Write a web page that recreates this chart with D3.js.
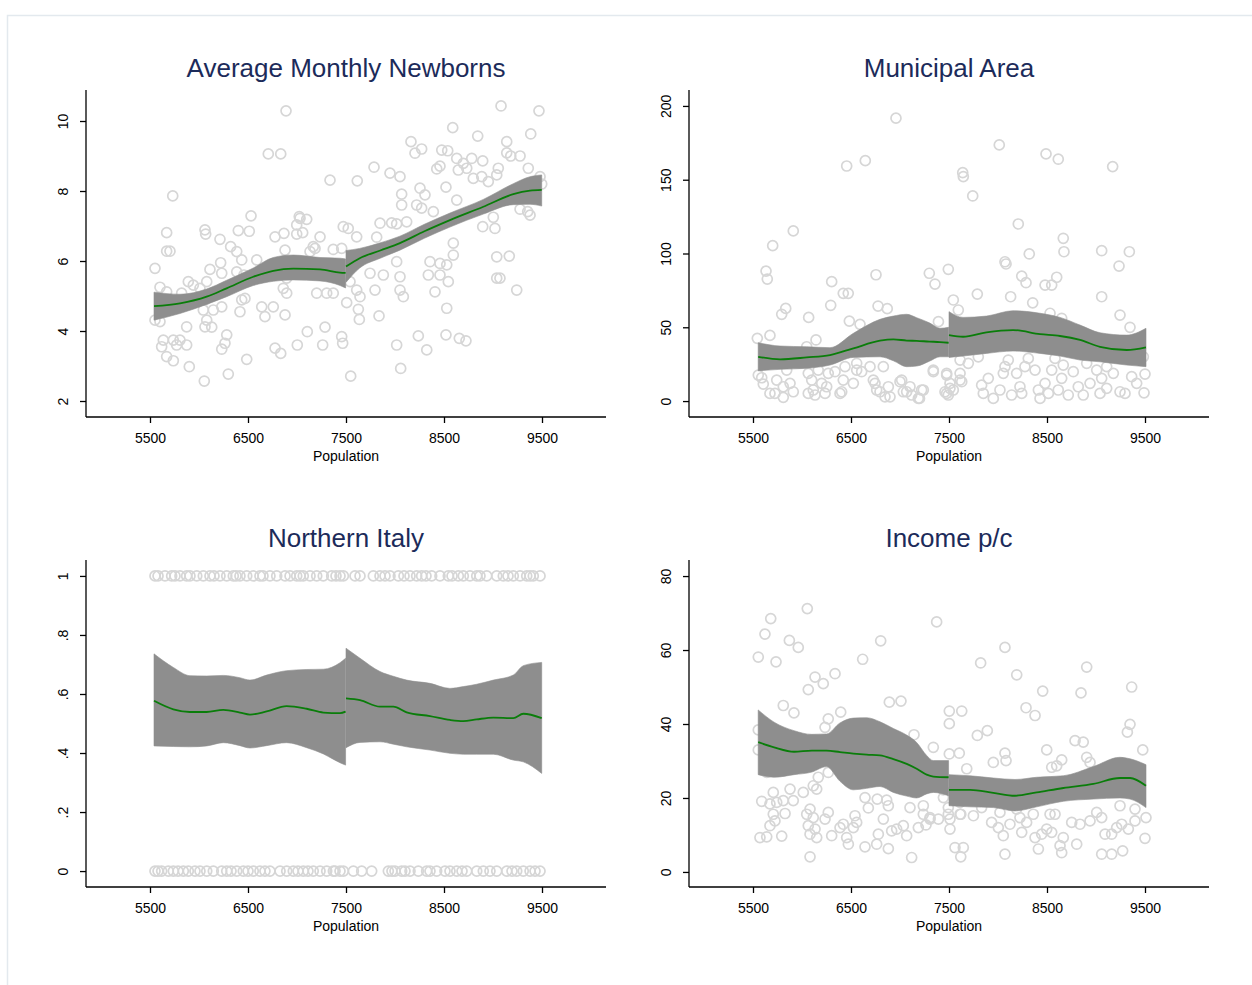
<!DOCTYPE html>
<html>
<head>
<meta charset="utf-8">
<script src="https://cdn.jsdelivr.net/npm/d3@7"></script>
<style>
  html, body { margin: 0; padding: 0; background: #ffffff; }
  svg { display: block; }
  text { font-family: "Liberation Sans", Arial, Helvetica, sans-serif; }
</style>
</head>
<body>
<div id="chart"></div>
<script>
// ---- Shared axis settings ----
const popTicks = [5500, 6500, 7500, 8500, 9500];
const popLabel = "Population";

// ---- Panel 1: Average Monthly Newborns ----
const newbornsTicks = [2, 4, 6, 8, 10];
const newbornsPoints = [
  [6888,10.29],[6707,9.06],[6834,9.06],[7337,8.31],[5732,7.86],[6531,7.29],[7023,7.27],[7099,7.19],
  [6997,7.03],[5670,6.81],[6061,6.89],[6068,6.77],[6401,6.87],[6513,6.85],[6867,6.79],[6997,6.77],
  [7058,6.81],[6776,6.69],[7235,6.69],[6214,6.62],[6323,6.41],[6385,6.27],[6436,6.03],[6589,6.03],
  [7166,6.41],[7370,6.33],[5670,6.28],[5704,6.28],[6878,6.31],[7133,6.27],[5551,5.79],[6112,5.76],
  [6221,5.95],[6232,5.65],[6385,5.69],[6459,5.60],[6724,5.84],[5602,5.25],[5891,5.41],[5942,5.31],
  [6010,5.22],[6079,5.41],[5670,5.12],[5823,5.08],[6283,5.19],[6436,4.89],[6469,4.93],[6061,4.89],
  [6146,4.60],[6232,4.69],[6418,4.55],[6640,4.69],[6758,4.69],[6673,4.41],[6878,4.46],[6044,4.60],
  [6079,4.31],[5551,4.31],[5602,4.27],[6895,5.08],[6895,5.51],[6860,5.22],[7201,5.08],[7303,5.08],
  [7370,5.08],[5874,4.12],[6061,4.12],[6130,4.11],[6283,3.89],[5636,3.74],[5738,3.74],[5806,3.74],
  [5874,3.60],[5772,3.60],[5619,3.55],[5670,3.27],[5738,3.15],[6232,3.48],[6265,3.65],[6487,3.19],
  [6776,3.51],[6834,3.36],[7003,3.60],[7105,3.98],[7262,3.60],[7286,4.11],[5901,2.98],[6299,2.77],
  [6054,2.57],[9082,10.43],[9469,10.29],[8589,9.81],[8844,9.57],[9385,9.63],[9140,9.41],[8163,9.41],
  [8204,9.08],[8272,9.20],[8477,9.17],[8538,9.15],[9140,9.09],[9181,9.00],[9276,9.00],[8630,8.93],
  [8697,8.79],[8783,8.93],[8895,8.86],[8646,8.60],[8732,8.65],[8426,8.63],[8459,8.71],[7786,8.68],
  [7949,8.51],[8051,8.41],[7615,8.29],[8799,8.36],[8885,8.41],[9054,8.65],[9038,8.46],[8952,8.27],
  [9360,8.65],[9480,8.41],[9497,8.20],[8520,8.11],[8255,8.08],[8306,7.89],[8068,7.91],[8068,7.60],
  [8221,7.60],[8272,7.51],[8391,7.41],[8630,7.74],[9003,7.25],[8895,6.98],[9020,6.93],[9276,7.48],
  [9378,7.31],[9354,7.41],[7847,7.08],[7966,7.09],[8017,7.06],[8119,7.12],[7472,6.98],[7523,6.93],
  [7031,7.22],[7184,6.36],[7456,6.36],[7609,6.69],[7813,6.68],[7745,5.65],[7881,5.60],[8051,5.55],
  [8051,5.17],[8085,4.98],[8357,5.98],[8459,5.93],[8528,5.89],[8595,6.17],[8595,6.51],[8340,5.60],
  [8459,5.60],[8544,5.41],[8408,5.12],[8017,5.98],[9038,6.12],[9166,6.14],[9038,5.51],[9071,5.51],
  [9242,5.17],[7541,5.41],[7609,5.17],[7643,4.98],[7796,5.17],[7507,4.81],[7626,4.62],[7636,4.33],
  [7837,4.43],[7456,3.84],[7466,3.65],[7548,2.71],[8017,3.60],[8058,2.93],[8238,3.86],[8324,3.46],
  [8528,4.65],[8520,3.89],[8656,3.79],[8724,3.72]
];
// [population, fit, lower, upper]
const newbornsFitLeft = [
  [5541,4.71,4.31,5.11],[5806,4.79,4.50,5.05],[6078,4.98,4.76,5.20],[6282,5.22,4.98,5.45],
  [6554,5.55,5.30,5.80],[6758,5.72,5.42,6.10],[6962,5.78,5.46,6.17],[7235,5.76,5.43,6.10],
  [7439,5.67,5.30,6.08],[7496,5.66,5.23,6.06]
];
const newbornsFitRight = [
  [7500,5.84,5.39,6.30],[7640,6.08,5.80,6.36],[7850,6.30,6.08,6.52],[8050,6.51,6.31,6.71],
  [8300,6.85,6.65,7.05],[8561,7.17,6.97,7.37],[8901,7.55,7.34,7.76],[9207,7.91,7.61,8.21],
  [9378,8.01,7.62,8.41],[9497,8.03,7.57,8.46]
];

// ---- Panel 2: Municipal Area ----
const areaTicks = [0, 50, 100, 150, 200];
const areaPoints = [
  [6959,191.7],[6456,159.3],[6646,162.9],[5911,115.3],[5701,105.3],[5633,88.1],[5646,82.7],[6755,85.6],
  [6303,80.9],[6421,73.0],[6472,73.0],[6293,64.9],[6776,64.4],[6870,62.6],[5834,62.8],[5793,58.8],
  [6068,56.7],[6483,54.2],[6592,52.0],[5673,44.5],[5544,42.5],[6143,41.4],[6048,36.8],[7299,86.6],
  [7357,79.3],[5554,17.6],[5589,15.8],[5605,11.5],[5673,5.2],[5724,5.2],[5742,14.2],[5809,9.7],
  [5809,2.5],[5878,12.0],[5911,6.3],[5844,21.0],[6064,18.8],[6064,5.2],[6099,14.2],[6115,7.5],
  [6133,4.1],[6201,12.0],[6235,5.2],[6252,9.7],[6166,21.0],[6268,18.8],[6337,19.9],[6388,5.2],
  [6421,14.2],[6439,23.3],[6524,12.0],[6558,21.0],[6609,19.9],[6694,23.3],[6728,14.2],[6762,7.5],
  [6796,6.3],[6847,2.9],[6898,2.9],[6881,9.7],[7000,13.1],[7034,6.3],[7102,9.7],[7119,4.1],
  [7199,1.8],[7238,7.5],[7340,21.0],[6830,23.3],[7493,89.3],[7392,53.8],[6558,25.6],[7476,17.6],
  [7613,14.2],[7510,12.0],[7459,6.3],[7493,4.1],[7544,7.5],[7221,7.5],[7187,1.8],[7017,14.2],
  [7068,6.3],[6745,12.0],[6405,6.3],[8013,173.6],[8490,167.5],[8615,163.9],[9170,158.9],[7640,154.8],
  [7646,152.1],[7742,139.0],[8207,120.0],[8666,110.3],[8673,101.2],[9058,101.9],[9340,101.2],[9235,91.5],
  [8071,94.4],[8082,92.9],[8319,99.7],[8242,84.7],[8286,80.2],[8480,78.6],[8548,78.6],[8599,83.9],
  [9058,70.7],[7789,72.5],[8129,70.7],[8354,66.6],[7544,68.5],[7595,61.7],[9245,58.3],[9347,50.0],
  [8531,59.5],[8650,56.1],[7613,27.8],[7697,25.6],[7799,30.0],[7340,19.9],[7476,18.8],[7613,18.8],
  [7630,13.1],[7510,8.6],[7476,5.2],[7833,10.8],[7850,5.2],[7901,15.4],[7952,1.8],[8020,7.5],
  [8054,18.8],[8071,23.3],[8105,27.8],[8139,4.1],[8190,18.8],[8224,9.7],[8242,5.2],[8275,23.3],
  [8309,28.9],[8378,21.0],[8412,7.5],[8429,1.8],[8480,12.0],[8514,5.2],[8548,21.0],[8582,28.9],
  [8615,7.5],[8650,15.4],[8666,24.4],[8717,4.1],[8768,19.9],[8819,9.7],[8870,4.1],[8905,25.6],
  [8939,12.0],[9007,21.0],[9041,5.2],[9058,15.4],[9109,8.6],[9177,18.8],[9245,6.3],[9296,5.2],
  [9364,16.5],[9415,12.0],[9490,5.6],[9500,18.3],[9483,30.0],[9109,23.3]
];
const areaFitLeft = [
  [5553,30.0,20.5,39.5],[5776,28.3,21.5,37.3],[6048,29.6,22.2,36.8],[6286,31.2,24.4,36.2],
  [6524,35.7,29.6,45.9],[6796,40.9,30.0,55.4],[6932,41.8,27.3,57.6],[7068,41.0,23.3,58.8],
  [7170,40.8,23.7,56.5],[7300,40.3,27.0,53.0],[7408,40.0,30.0,49.3],[7496,39.5,30.0,50.0]
];
const areaFitRight = [
  [7500,44.7,29.6,60.6],[7643,43.6,30.5,56.7],[7882,46.6,32.3,57.6],[8153,48.1,33.9,61.2],
  [8429,45.4,32.3,59.5],[8633,44.1,30.5,56.7],[8837,41.4,27.8,51.5],[9041,36.8,26.6,46.3],
  [9313,34.6,24.4,44.7],[9510,36.4,23.3,49.3]
];

// ---- Panel 3: Northern Italy (0/1 indicator) ----
const northTicks = [0, 0.2, 0.4, 0.6, 0.8, 1];
const northTickLabels = ["0", ".2", ".4", ".6", ".8", "1"];
const northPopsYes = [
  5551,5582,5653,5721,5755,5806,5874,5908,5977,6044,6112,6153,6214,6283,6350,6378,6418,6487,6554,6622,
  6653,6724,6793,6878,6929,6997,7031,7064,7133,7201,7268,7354,7398,7439,7473,7592,7643,7779,7847,7898,
  7949,8034,8092,8153,8221,8272,8316,8374,8459,8544,8582,8646,8697,8765,8834,8867,8936,9038,9105,9153,
  9207,9276,9344,9378,9411,9480
];
const northPopsNo = [
  5551,5582,5619,5687,5738,5786,5840,5891,5959,6010,6079,6146,6232,6283,6327,6385,6452,6500,6554,6622,
  6673,6724,6827,6895,6962,7010,7064,7112,7166,7235,7303,7371,7388,7439,7473,7575,7660,7762,7932,7969,
  8000,8068,8102,8153,8238,8323,8357,8425,8510,8561,8630,8684,8732,8834,8901,8969,9038,9140,9194,9242,
  9309,9378,9429,9480
];
const northFitLeft = [
  [5541,0.577,0.424,0.736],[5738,0.548,0.422,0.690],[5908,0.539,0.421,0.662],[6078,0.539,0.424,0.661],
  [6248,0.546,0.435,0.663],[6418,0.537,0.425,0.655],[6520,0.530,0.417,0.647],[6690,0.541,0.425,0.664],
  [6894,0.559,0.435,0.679],[7099,0.550,0.418,0.683],[7269,0.537,0.397,0.684],[7439,0.535,0.367,0.706],
  [7496,0.540,0.359,0.721]
];
const northFitRight = [
  [7500,0.585,0.418,0.755],[7643,0.579,0.436,0.721],[7847,0.557,0.438,0.676],[7983,0.557,0.430,0.660],
  [8119,0.538,0.421,0.647],[8357,0.525,0.410,0.636],[8561,0.512,0.399,0.619],[8697,0.508,0.396,0.625],
  [8833,0.514,0.396,0.633],[9003,0.520,0.396,0.647],[9207,0.518,0.376,0.664],[9309,0.533,0.370,0.696],
  [9497,0.518,0.331,0.707]
];

// ---- Panel 4: Income p/c ----
const incomeTicks = [0, 20, 40, 60, 80];
const incomePoints = [
  [6054,71.2],[5681,68.5],[5622,64.3],[5554,58.1],[5735,56.8],[5871,62.6],[5962,60.7],[6803,62.5],
  [6619,57.5],[7374,67.6],[6133,52.7],[6337,53.6],[6217,50.9],[6064,49.3],[5809,45.0],[5918,43.0],
  [6395,43.2],[6268,41.4],[6891,45.9],[7010,46.2],[6235,39.1],[5554,38.4],[5554,33.0],[7143,37.1],
  [7340,33.7],[5640,26.9],[6166,25.6],[6268,26.9],[5589,19.1],[5707,21.5],[5673,18.4],[5742,18.8],
  [5809,19.3],[5878,22.4],[5911,19.3],[6013,21.5],[6115,23.3],[6150,22.4],[5707,15.6],[5827,15.8],
  [5724,13.8],[5673,12.5],[5571,9.3],[5640,9.5],[5793,9.7],[6048,15.6],[6082,17.0],[6115,14.7],
  [6064,12.5],[6133,11.6],[6082,10.2],[6150,9.3],[6235,14.3],[6268,16.1],[6303,9.8],[6388,12.0],
  [6421,12.9],[6456,9.3],[6473,7.5],[6524,12.0],[6541,15.2],[6558,13.4],[6082,4.1],[6643,20.1],
  [6677,17.3],[6643,6.8],[6762,7.5],[6779,10.2],[6768,19.7],[6830,14.3],[6864,19.4],[6881,17.9],
  [6881,6.3],[6915,11.1],[6966,11.6],[7034,12.5],[7068,9.8],[7102,17.4],[7119,3.9],[7187,12.0],
  [7238,15.6],[7265,12.7],[7306,14.3],[7392,14.3],[7443,20.1],[7503,43.5],[7630,43.5],[7503,40.1],
  [7503,31.9],[7605,32.1],[7681,27.9],[7238,17.9],[7306,14.7],[7493,17.4],[7510,14.3],[7510,11.6],
  [7561,6.6],[7646,6.6],[7620,4.1],[7443,22.2],[7613,18.8],[7620,15.6],[8071,60.7],[7823,56.5],
  [8191,53.3],[8905,55.4],[8456,48.9],[8847,48.4],[9364,50.0],[8286,44.4],[8378,42.3],[7789,36.9],
  [7891,38.2],[9347,39.9],[9320,37.8],[8786,35.5],[8870,35.1],[9477,33.0],[8497,33.0],[7952,29.6],
  [8071,32.1],[8082,30.1],[8548,28.3],[8599,28.7],[8650,30.3],[8905,31.0],[8939,29.6],[7493,15.6],
  [7613,15.6],[7749,15.2],[7833,17.4],[7935,13.4],[8020,16.1],[8003,12.0],[8054,9.8],[8122,12.9],
  [8190,17.0],[8224,14.7],[8242,10.7],[8292,13.4],[8360,15.6],[8378,9.3],[8412,6.2],[8446,10.2],
  [8497,11.6],[8548,10.7],[8531,15.6],[8582,15.6],[8633,7.1],[8650,5.2],[8666,9.3],[8752,13.4],
  [8803,7.5],[8837,12.9],[8939,13.8],[9007,16.1],[9058,14.7],[9092,10.2],[9160,10.2],[9211,12.0],
  [9262,12.9],[9330,11.6],[9398,13.8],[9398,17.0],[9245,17.9],[9510,14.7],[9500,9.1],[9058,4.8],
  [9160,4.8],[9272,5.7],[8071,4.8]
];
const incomeFitLeft = [
  [5553,35.1,26.3,43.8],[5715,33.7,25.6,40.5],[5919,32.5,26.3,38.2],[6100,32.8,27.0,37.2],
  [6250,32.8,28.5,37.3],[6388,32.4,24.5,40.3],[6524,32.0,22.2,41.6],[6660,31.7,22.6,41.7],
  [6796,31.5,23.1,40.6],[6932,30.5,21.5,38.8],[7068,29.2,20.5,37.0],[7170,27.9,20.0,35.0],
  [7272,26.3,21.1,31.5],[7340,25.8,21.5,30.1],[7496,25.6,20.6,30.1]
];
const incomeFitRight = [
  [7500,22.2,17.9,26.3],[7714,22.2,17.6,26.0],[7952,21.4,17.4,25.4],[8173,20.6,16.5,25.0],
  [8395,21.5,17.6,25.6],[8667,22.7,19.1,26.0],[8973,23.8,19.7,28.5],[9245,25.4,20.0,31.0],
  [9347,25.4,19.7,30.6],[9510,23.3,17.4,29.0]
];

// ---- Panels ----
const panels = [
  { title: "Average Monthly Newborns", col: 0, row: 0, points: newbornsPoints,
    fits: [newbornsFitLeft, newbornsFitRight], yDomain: [1.543, 10.886],
    yTicks: newbornsTicks, yFormat: d => String(d) },
  { title: "Municipal Area", col: 1, row: 0, points: areaPoints,
    fits: [areaFitLeft, areaFitRight], yDomain: [-10.8, 210.8],
    yTicks: areaTicks, yFormat: d => String(d) },
  { title: "Northern Italy", col: 0, row: 1,
    points: northPopsYes.map(p => [p, 1]).concat(northPopsNo.map(p => [p, 0])),
    fits: [northFitLeft, northFitRight], yDomain: [-0.054, 1.054],
    yTicks: northTicks, yFormat: (d, i) => northTickLabels[i] },
  { title: "Income p/c", col: 1, row: 1, points: incomePoints,
    fits: [incomeFitLeft, incomeFitRight], yDomain: [-4.07, 84.34],
    yTicks: incomeTicks, yFormat: d => String(d) }
];

const W = 1252, H = 985;
const svg = d3.select("#chart").append("svg")
  .attr("width", W).attr("height", H);

// light outer frame of the graph region
svg.append("rect")
  .attr("x", 7.5).attr("y", 15.5)
  .attr("width", W + 20).attr("height", H + 20)
  .attr("fill", "none").attr("stroke", "#e3e9ee").attr("stroke-width", 1.5);

const plotW = 520, plotH = 327;
const colX = [86, 689], rowY = [90, 560];

panels.forEach(p => {
  const left = colX[p.col], top = rowY[p.row];
  const g = svg.append("g").attr("transform", `translate(${left},${top})`);

  const x = d3.scaleLinear().domain([4847, 10153]).range([0, plotW]);
  const y = d3.scaleLinear().domain(p.yDomain).range([plotH, 0]);

  // scatter of raw observations
  g.append("g").selectAll("circle")
    .data(p.points)
    .join("circle")
    .attr("cx", d => x(d[0]))
    .attr("cy", d => y(d[1]))
    .attr("r", 5)
    .attr("fill", "none")
    .attr("stroke", "#d6d6d6")
    .attr("stroke-width", 1.7);

  // confidence bands and local fits on each side of the 7500 threshold
  const area = d3.area()
    .x(d => x(d[0])).y0(d => y(d[2])).y1(d => y(d[3]))
    .curve(d3.curveMonotoneX);
  const line = d3.line()
    .x(d => x(d[0])).y(d => y(d[1]))
    .curve(d3.curveMonotoneX);

  p.fits.forEach(f => {
    g.append("path").datum(f)
      .attr("d", area)
      .attr("fill", "#8e8e8e")
      .attr("stroke", "#8e8e8e")
      .attr("stroke-width", 0.6);
  });
  p.fits.forEach(f => {
    g.append("path").datum(f)
      .attr("d", line)
      .attr("fill", "none")
      .attr("stroke", "#0a7d0a")
      .attr("stroke-width", 1.8);
  });

  // axes
  const xAxis = d3.axisBottom(x).tickValues(popTicks).tickSize(6).tickPadding(10)
    .tickFormat(d3.format("d"));
  const gx = g.append("g").attr("transform", `translate(0,${plotH})`).call(xAxis);
  gx.select(".domain").attr("d", `M0,0H${plotW}`).attr("stroke", "#000").attr("stroke-width", 1.3);
  gx.selectAll(".tick line").attr("stroke", "#000").attr("stroke-width", 1.3);
  gx.selectAll(".tick text").attr("font-size", 14).attr("fill", "#000")
    .attr("font-family", "'Liberation Sans', Arial, sans-serif");

  const yAxis = d3.axisLeft(y).tickValues(p.yTicks).tickSize(6).tickFormat(p.yFormat);
  const gy = g.append("g").call(yAxis);
  gy.select(".domain").attr("d", `M0,0V${plotH}`).attr("stroke", "#000").attr("stroke-width", 1.3);
  gy.selectAll(".tick line").attr("stroke", "#000").attr("stroke-width", 1.3);
  gy.selectAll(".tick text")
    .attr("font-size", 14).attr("fill", "#000")
    .attr("font-family", "'Liberation Sans', Arial, sans-serif")
    .attr("x", null).attr("dy", null)
    .attr("text-anchor", "middle")
    .attr("transform", "translate(-18,0) rotate(-90)");

  // x-axis title
  g.append("text")
    .attr("x", x(7500)).attr("y", plotH + 44)
    .attr("text-anchor", "middle")
    .attr("font-size", 14).attr("fill", "#000")
    .text(popLabel);

  // panel title
  g.append("text")
    .attr("x", x(7500)).attr("y", -13)
    .attr("text-anchor", "middle")
    .attr("font-size", 26).attr("fill", "#1c2b5a")
    .text(p.title);
});
</script>
</body>
</html>
